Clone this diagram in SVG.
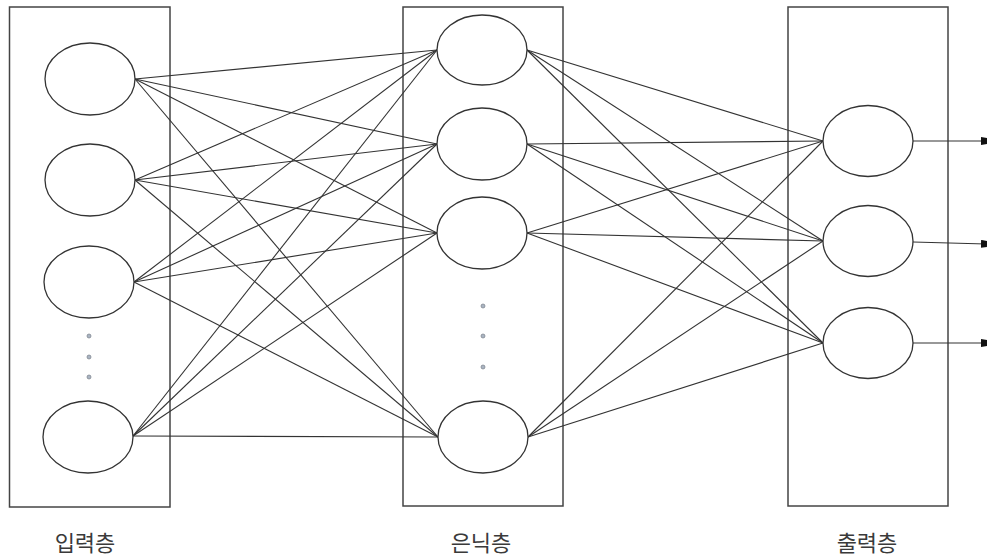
<svg xmlns="http://www.w3.org/2000/svg" width="987" height="556" viewBox="0 0 987 556">
<style>
.layer{fill:none;stroke:#444;stroke-width:1.5}
.node{fill:#fff;stroke:#333;stroke-width:1.3}
.edge{stroke:#333;stroke-width:1.1;fill:none}
.dot{fill:#a9b4c2;stroke:#7a808a;stroke-width:0.7}
.lbl{font-family:"Noto Sans CJK KR","Noto Sans",sans-serif;font-size:22px;fill:#3a3a3a;text-anchor:middle}
</style>
<defs>
<marker id="arr" markerWidth="6" markerHeight="8" refX="5" refY="4" orient="auto" markerUnits="userSpaceOnUse">
<path d="M0,0 L6,1 L6,7 L0,8 Z" fill="#111"/>
</marker>
</defs>
<g id="layers">
<rect id="input-layer" class="layer" x="9.5" y="7" width="160.5" height="500"/>
<rect id="hidden-layer" class="layer" x="403" y="7" width="160" height="499"/>
<rect id="output-layer" class="layer" x="788" y="7" width="160" height="499"/>
</g>
<g id="connectors">
<g class="edge">
<line x1="135" y1="79" x2="437" y2="50"/>
<line x1="135" y1="79" x2="437" y2="144"/>
<line x1="135" y1="79" x2="437" y2="233"/>
<line x1="135" y1="79" x2="438" y2="437"/>
<line x1="135" y1="180" x2="437" y2="50"/>
<line x1="135" y1="180" x2="437" y2="144"/>
<line x1="135" y1="180" x2="437" y2="233"/>
<line x1="135" y1="180" x2="438" y2="437"/>
<line x1="134" y1="282" x2="437" y2="50"/>
<line x1="134" y1="282" x2="437" y2="144"/>
<line x1="134" y1="282" x2="437" y2="233"/>
<line x1="134" y1="282" x2="438" y2="437"/>
<line x1="133" y1="436" x2="437" y2="50"/>
<line x1="133" y1="436" x2="437" y2="144"/>
<line x1="133" y1="436" x2="437" y2="233"/>
<line x1="133" y1="436" x2="438" y2="437"/>
<line x1="527" y1="50" x2="823" y2="141"/>
<line x1="527" y1="50" x2="823" y2="241"/>
<line x1="527" y1="50" x2="823" y2="343"/>
<line x1="527" y1="144" x2="823" y2="141"/>
<line x1="527" y1="144" x2="823" y2="241"/>
<line x1="527" y1="144" x2="823" y2="343"/>
<line x1="527" y1="233" x2="823" y2="141"/>
<line x1="527" y1="233" x2="823" y2="241"/>
<line x1="527" y1="233" x2="823" y2="343"/>
<line x1="528" y1="437" x2="823" y2="141"/>
<line x1="528" y1="437" x2="823" y2="241"/>
<line x1="528" y1="437" x2="823" y2="343"/>
<line x1="913" y1="141" x2="986" y2="141" marker-end="url(#arr)"/>
<line x1="913" y1="242" x2="986" y2="244" marker-end="url(#arr)"/>
<line x1="913" y1="343" x2="986" y2="343" marker-end="url(#arr)"/>
</g>
</g>
<g id="input-nodes">
<ellipse id="in1" class="node" cx="90" cy="79" rx="45" ry="36"/>
<ellipse id="in2" class="node" cx="90" cy="180" rx="45" ry="36"/>
<ellipse id="in3" class="node" cx="89" cy="282" rx="45" ry="36"/>
<ellipse id="in4" class="node" cx="88" cy="437" rx="45" ry="36"/>
<circle class="dot" cx="89" cy="336" r="2"/>
<circle class="dot" cx="89" cy="357" r="2"/>
<circle class="dot" cx="89" cy="377" r="2"/>
</g>
<g id="hidden-nodes">
<ellipse id="h1" class="node" cx="482" cy="50" rx="45" ry="35"/>
<ellipse id="h2" class="node" cx="482" cy="144" rx="45" ry="36"/>
<ellipse id="h3" class="node" cx="482" cy="233" rx="45" ry="36"/>
<ellipse id="h4" class="node" cx="483" cy="437" rx="45" ry="36"/>
<circle class="dot" cx="483" cy="306" r="2"/>
<circle class="dot" cx="483" cy="336" r="2"/>
<circle class="dot" cx="483" cy="367" r="2"/>
</g>
<g id="output-nodes">
<ellipse id="o1" class="node" cx="868" cy="141" rx="45" ry="35.5"/>
<ellipse id="o2" class="node" cx="868" cy="241" rx="45" ry="35.5"/>
<ellipse id="o3" class="node" cx="868" cy="343" rx="45" ry="35.5"/>
</g>
<g id="labels">
<text class="lbl" x="85" y="551">입력층</text>
<text class="lbl" x="481" y="551">은닉층</text>
<text class="lbl" x="867" y="551">출력층</text>
</g>
</svg>
